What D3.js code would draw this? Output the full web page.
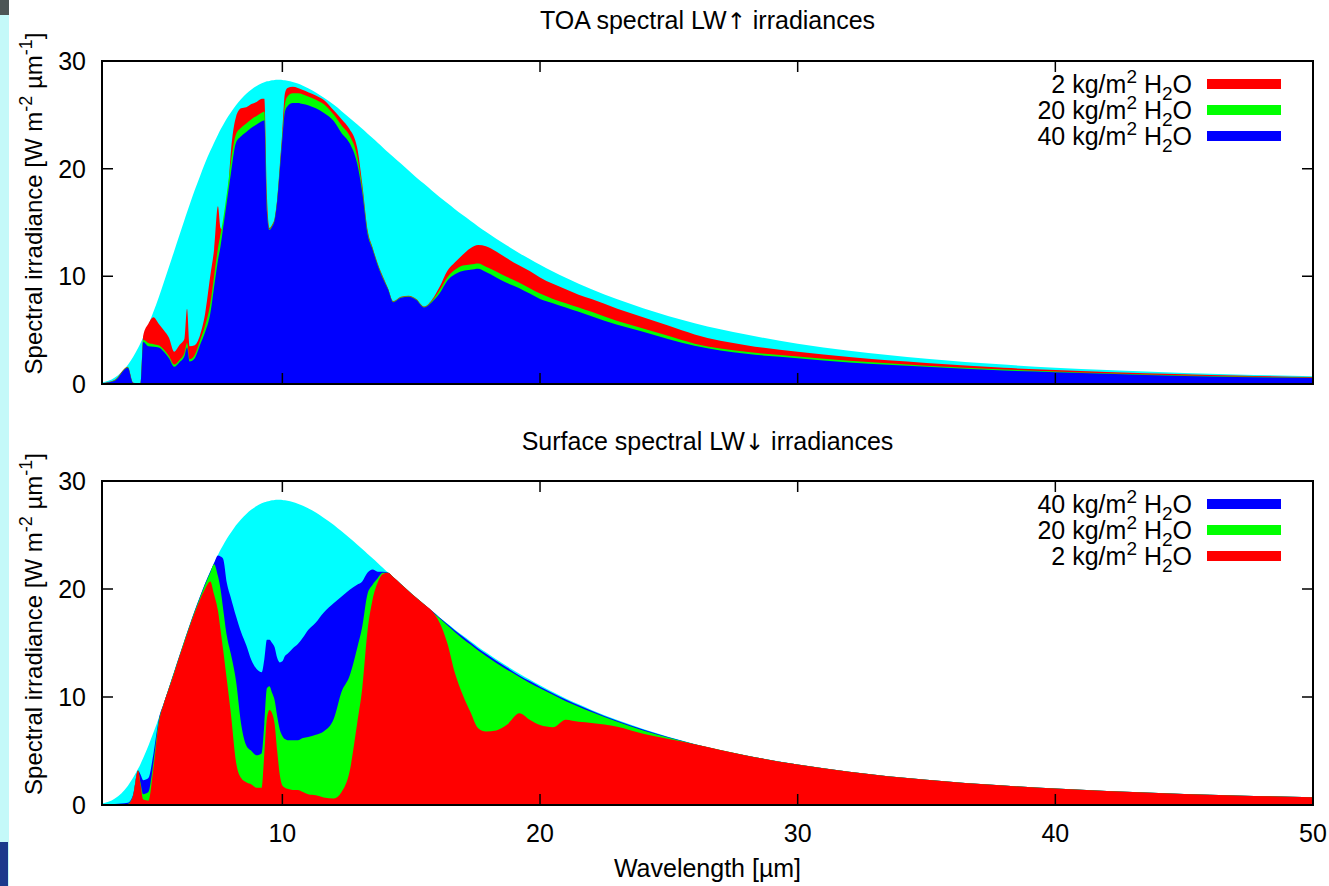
<!DOCTYPE html>
<html>
<head>
<meta charset="utf-8">
<script src="https://cdn.jsdelivr.net/npm/d3@7"></script>
<style>
  body { margin: 0; background: #fff; }
  text { font-family: "Liberation Sans", Arial, Helvetica, sans-serif; fill: #000; white-space: pre; }
</style>
</head>
<body>
<svg id="chart" width="1329" height="886"></svg>
<script>
// wavelength grid [um]
const wavelength = [
  3, 3.5, 4, 4.2, 4.4, 4.5, 4.6, 4.8, 5, 5.2,
  5.4, 5.6, 5.8, 6, 6.2, 6.3, 6.4, 6.6, 6.8, 7,
  7.2, 7.35, 7.5, 7.6, 7.7, 7.85, 8, 8.2, 8.4, 8.6,
  8.8, 9, 9.2, 9.3, 9.4, 9.5, 9.6, 9.7, 9.8, 9.9,
  10, 10.1, 10.2, 10.4, 10.6, 10.8, 11, 11.3, 11.6, 12,
  12.3, 12.6, 12.9, 13.1, 13.3, 13.5, 13.7, 13.9, 14.1, 14.3,
  14.6, 14.9, 15.2, 15.5, 15.8, 16.1, 16.4, 16.7, 17, 17.3,
  17.6, 17.9, 18.3, 18.7, 19.2, 19.6, 20, 20.5, 21, 21.5,
  22, 23, 24, 25, 26, 28, 30, 32, 35, 38,
  40, 42, 45, 47, 50
];

// surface emission envelope (cyan)
const surfaceEmission = [
  0.13, 0.60, 1.77, 2.49, 3.35, 3.83, 4.35, 5.48, 6.73, 8.04,
  9.44, 10.89, 12.34, 13.79, 15.24, 15.96, 16.65, 18.01, 19.28, 20.52,
  21.63, 22.41, 23.15, 23.63, 24.05, 24.68, 25.21, 25.90, 26.46, 26.95,
  27.36, 27.68, 27.93, 28.03, 28.11, 28.15, 28.21, 28.24, 28.26, 28.26,
  28.24, 28.21, 28.17, 28.06, 27.90, 27.71, 27.48, 27.08, 26.60, 25.93,
  25.34, 24.74, 24.12, 23.70, 23.27, 22.85, 22.41, 21.97, 21.53, 21.11,
  20.47, 19.82, 19.19, 18.59, 17.98, 17.37, 16.80, 16.23, 15.69, 15.16,
  14.64, 14.15, 13.50, 12.89, 12.15, 11.61, 11.08, 10.46, 9.87, 9.32,
  8.80, 7.86, 7.03, 6.30, 5.65, 4.59, 3.75, 3.09, 2.34, 1.80,
  1.52, 1.30, 1.03, 0.89, 0.72
];

// TOA upward
const toa2 = [
  0.08, 0.40, 1.60, 0.15, 0.05, 0.10, 4.50, 5.60, 6.20, 5.60,
  5.00, 4.30, 3.00, 3.60, 4.20, 7.00, 3.50, 3.60, 4.50, 6.50,
  10.00, 12.50, 16.50, 14.50, 14.30, 16.30, 21.50, 24.80, 25.60, 25.70,
  26.00, 26.20, 26.50, 26.50, 17.50, 14.50, 14.80, 15.40, 17.20, 20.30,
  23.50, 27.00, 27.50, 27.60, 27.50, 27.30, 27.10, 26.80, 26.40, 25.40,
  24.60, 23.70, 22.00, 18.60, 14.40, 12.70, 11.20, 10.00, 8.90, 7.70,
  8.10, 8.20, 7.90, 7.20, 7.80, 9.00, 10.50, 11.30, 12.00, 12.60,
  12.90, 12.80, 12.30, 11.70, 11.00, 10.50, 9.90, 9.30, 8.80, 8.30,
  7.90, 7.00, 6.20, 5.40, 4.60, 3.60, 3.00, 2.50, 1.95, 1.50,
  1.30, 1.12, 0.90, 0.78, 0.64
];
const toa20 = [
  0.06, 0.35, 1.55, 0.10, 0.05, 0.10, 4.10, 3.80, 3.70, 3.60,
  3.20, 2.60, 1.80, 2.20, 2.90, 3.80, 2.30, 2.70, 4.00, 5.40,
  7.40, 10.00, 12.60, 13.90, 15.30, 17.80, 20.60, 23.20, 23.80, 24.20,
  24.60, 24.90, 25.20, 25.30, 16.20, 14.40, 14.70, 15.30, 17.10, 20.00,
  23.10, 26.00, 26.70, 27.00, 27.00, 26.90, 26.70, 26.40, 26.00, 25.00,
  24.00, 23.10, 21.20, 18.20, 14.20, 12.60, 11.10, 9.90, 8.85, 7.65,
  8.05, 8.15, 7.85, 7.15, 7.70, 8.70, 9.90, 10.60, 11.00, 11.10,
  11.20, 10.90, 10.45, 9.95, 9.40, 8.90, 8.40, 7.90, 7.50, 7.10,
  6.70, 5.85, 5.15, 4.45, 3.75, 3.00, 2.55, 2.15, 1.70, 1.35,
  1.17, 1.00, 0.80, 0.69, 0.58
];
const toa40 = [
  0.05, 0.30, 1.50, 0.10, 0.05, 0.10, 3.90, 3.50, 3.45, 3.40,
  3.00, 2.40, 1.60, 2.00, 2.60, 3.40, 2.10, 2.40, 3.60, 4.80,
  6.50, 9.00, 11.50, 12.80, 14.50, 17.00, 19.50, 22.40, 23.00, 23.40,
  23.80, 24.10, 24.40, 24.50, 16.00, 14.30, 14.60, 15.20, 17.00, 19.80,
  22.80, 25.30, 25.80, 26.10, 26.10, 26.00, 25.90, 25.60, 25.20, 24.40,
  23.30, 22.40, 20.50, 17.80, 14.00, 12.50, 11.00, 9.80, 8.80, 7.60,
  8.00, 8.10, 7.80, 7.10, 7.60, 8.40, 9.60, 10.20, 10.50, 10.60,
  10.70, 10.40, 9.90, 9.40, 8.90, 8.40, 7.90, 7.50, 7.10, 6.70,
  6.30, 5.50, 4.85, 4.15, 3.55, 2.80, 2.40, 2.00, 1.60, 1.25,
  1.10, 0.95, 0.75, 0.65, 0.55
];

// surface downward
const sfc2 = [
  0.00, 0.00, 0.05, 0.80, 3.20, 1.80, 0.50, 0.40, 3.50, 7.50,
  9.40, 10.80, 12.20, 13.70, 15.10, 15.80, 16.50, 17.80, 19.00, 20.00,
  20.70, 19.50, 18.00, 16.20, 14.40, 11.50, 8.50, 4.00, 2.50, 2.10,
  1.90, 1.60, 1.60, 4.80, 8.00, 8.80, 8.50, 7.50, 5.00, 2.80,
  1.80, 1.60, 1.50, 1.40, 1.40, 1.20, 1.00, 0.90, 0.70, 0.60,
  1.20, 3.00, 7.50, 10.80, 16.00, 19.00, 20.60, 21.40, 21.50, 21.10,
  20.47, 19.82, 19.19, 18.59, 17.98, 16.90, 15.00, 12.20, 10.20, 8.60,
  7.10, 6.80, 6.90, 7.40, 8.50, 7.90, 7.40, 7.20, 7.90, 7.70,
  7.60, 7.25, 6.60, 6.10, 5.62, 4.59, 3.75, 3.09, 2.34, 1.80,
  1.52, 1.30, 1.03, 0.89, 0.72
];
const sfc20 = [
  0.02, 0.05, 0.10, 0.80, 3.20, 2.00, 1.00, 1.20, 4.00, 7.70,
  9.40, 10.85, 12.30, 13.75, 15.20, 15.90, 16.60, 17.95, 19.20, 20.40,
  21.50, 22.30, 21.20, 20.00, 18.20, 15.60, 14.00, 11.50, 7.50, 5.50,
  5.00, 4.60, 4.80, 7.50, 10.80, 11.00, 10.40, 9.70, 8.20, 7.00,
  6.40, 6.10, 6.00, 6.00, 6.00, 6.20, 6.30, 6.50, 6.80, 8.00,
  10.50, 11.90, 14.50, 16.50, 19.50, 20.40, 21.00, 21.50, 21.50, 21.11,
  20.47, 19.82, 19.19, 18.59, 17.95, 17.30, 16.65, 16.00, 15.40, 14.85,
  14.30, 13.80, 13.15, 12.55, 11.85, 11.30, 10.80, 10.20, 9.60, 9.10,
  8.60, 7.70, 6.90, 6.22, 5.62, 4.59, 3.75, 3.09, 2.34, 1.80,
  1.52, 1.30, 1.03, 0.89, 0.72
];
const sfc40 = [
  0.03, 0.10, 0.20, 0.90, 3.20, 2.80, 2.30, 2.50, 4.80, 7.90,
  9.44, 10.89, 12.34, 13.79, 15.24, 15.96, 16.65, 18.00, 19.28, 20.50,
  21.60, 22.40, 23.10, 23.00, 22.80, 20.50, 19.20, 17.50, 16.00, 14.80,
  13.40, 12.60, 12.30, 13.50, 15.30, 15.30, 15.00, 14.60, 13.60, 13.20,
  13.30, 13.80, 14.00, 14.50, 14.90, 15.50, 16.20, 16.90, 17.80, 18.70,
  19.30, 19.90, 20.40, 20.70, 21.50, 21.80, 21.60, 21.60, 21.53, 21.11,
  20.47, 19.82, 19.19, 18.59, 17.98, 17.37, 16.75, 16.15, 15.60, 15.05,
  14.50, 14.00, 13.35, 12.75, 12.00, 11.47, 10.95, 10.35, 9.77, 9.23,
  8.72, 7.80, 6.98, 6.27, 5.63, 4.59, 3.75, 3.09, 2.34, 1.80,
  1.52, 1.30, 1.03, 0.89, 0.72
];

const xTicks = [10, 20, 30, 40, 50];
const yTicks = [0, 10, 20, 30];

const svg = d3.select("#chart");
const left = 102, right = 1313;
const x = d3.scaleLinear().domain([3, 50]).range([left, right]);

// screenshot edge bits
svg.append("rect").attr("x", 0).attr("y", 0).attr("width", 9).attr("height", 886).attr("fill", "#c4f9f9");
svg.append("rect").attr("x", 0).attr("y", 0).attr("width", 9).attr("height", 15).attr("fill", "#4d5555");
svg.append("rect").attr("x", 0).attr("y", 842).attr("width", 8).attr("height", 44).attr("fill", "#1b3a8c");

function panel(id, top, bottom, title, arrow, titleY, layers, legendRows, showXLabels) {
  const y = d3.scaleLinear().domain([0, 30]).range([bottom, top]);
  const g = svg.append("g");

  g.append("clipPath").attr("id", id)
    .append("rect").attr("x", left).attr("y", top)
    .attr("width", right - left).attr("height", bottom - top);

  const area = d3.area()
    .x((d, i) => x(wavelength[i]))
    .y0(y(0))
    .y1(d => y(d))
    .curve(d3.curveMonotoneX);

  g.append("g").attr("clip-path", `url(#${id})`)
    .selectAll("path")
    .data(layers)
    .join("path")
    .attr("d", d => area(d.values.slice(0, wavelength.length)))
    .attr("fill", d => d.color);

  // border
  g.append("rect").attr("x", left).attr("y", top)
    .attr("width", right - left).attr("height", bottom - top)
    .attr("fill", "none").attr("stroke", "#000").attr("stroke-width", 2);

  // ticks, gnuplot style (inward, mirrored)
  const tl = 11;
  g.selectAll(".yt").data(yTicks).join("path")
    .attr("d", d => `M${left},${y(d)}h${tl}M${right},${y(d)}h${-tl}`)
    .attr("stroke", "#000").attr("stroke-width", 1.5);
  g.selectAll(".xt").data(xTicks).join("path")
    .attr("d", d => `M${x(d)},${bottom}v${-tl}M${x(d)},${top}v${tl}`)
    .attr("stroke", "#000").attr("stroke-width", 1.5);

  g.selectAll(".yl").data(yTicks).join("text")
    .attr("x", 86).attr("y", d => y(d) + 9)
    .attr("text-anchor", "end")
    .style("font-size", "25px")
    .text(d => d);

  if (showXLabels) {
    g.selectAll(".xl").data(xTicks).join("text")
      .attr("x", d => x(d)).attr("y", bottom + 37)
      .attr("text-anchor", "middle")
      .style("font-size", "25px")
      .text(d => d);
  }

  const tt = g.append("text").attr("x", (left + right) / 2).attr("y", titleY)
    .attr("text-anchor", "middle").style("font-size", "25px");
  tt.append("tspan").text(title[0]);
  tt.append("tspan").style("font-family", "'DejaVu Sans'").style("font-size", "23px").text(arrow);
  tt.append("tspan").text(title[1]);

  // y axis label
  const yl = g.append("text")
    .attr("transform", `translate(42,${(top + bottom) / 2 - 19}) rotate(-90)`)
    .attr("text-anchor", "middle").style("font-size", "24px");
  yl.append("tspan").text("Spectral irradiance [W m");
  yl.append("tspan").attr("dy", -10).style("font-size", "18px").text("-2");
  yl.append("tspan").attr("dy", 10).text(" µm");
  yl.append("tspan").attr("dy", -10).style("font-size", "18px").text("-1");
  yl.append("tspan").attr("dy", 10).text("]");

  // legend
  legendRows.forEach((r, i) => {
    const cy = top + 23 + i * 26;
    const t = g.append("text").attr("x", 1192).attr("y", cy + 9)
      .attr("text-anchor", "end").style("font-size", "25px");
    t.append("tspan").text(`${r.label} kg/m`);
    t.append("tspan").attr("dy", -10).style("font-size", "19px").text("2");
    t.append("tspan").attr("dy", 10).text(" H");
    t.append("tspan").attr("dy", 7).style("font-size", "19px").text("2");
    t.append("tspan").attr("dy", -7).text("O");
    g.append("rect").attr("x", 1207).attr("y", cy - 5)
      .attr("width", 74).attr("height", 10).attr("fill", r.color);
  });
}

const cyan = "#00ffff", red = "#ff0000", green = "#00ff00", blue = "#0000ff";

panel("clipTop", 61, 384, ["TOA spectral LW", " irradiances"], "\u2191", 29,
  [
    { values: surfaceEmission, color: cyan },
    { values: toa2, color: red },
    { values: toa20, color: green },
    { values: toa40, color: blue }
  ],
  [ { label: "2", color: red }, { label: "20", color: green }, { label: "40", color: blue } ],
  false);

panel("clipBottom", 481, 805, ["Surface spectral LW", " irradiances"], "\u2193", 450,
  [
    { values: surfaceEmission, color: cyan },
    { values: sfc40, color: blue },
    { values: sfc20, color: green },
    { values: sfc2, color: red }
  ],
  [ { label: "40", color: blue }, { label: "20", color: green }, { label: "2", color: red } ],
  true);

svg.append("text").attr("x", (left + right) / 2).attr("y", 877)
  .attr("text-anchor", "middle").style("font-size", "25px")
  .text("Wavelength [µm]");
</script>
</body>
</html>
